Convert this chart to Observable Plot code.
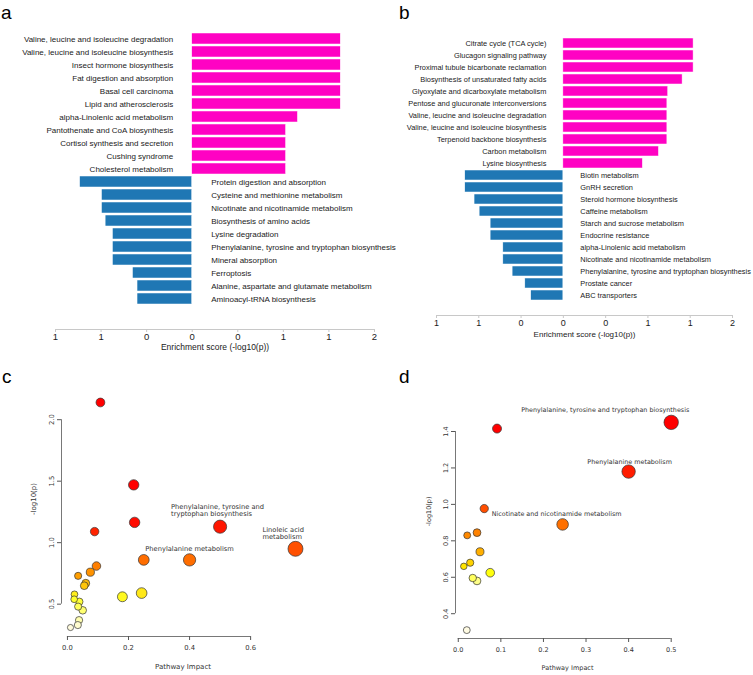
<!DOCTYPE html>
<html>
<head>
<meta charset="utf-8">
<script src="https://cdn.jsdelivr.net/npm/d3@7"></script>
<script src="https://cdn.jsdelivr.net/npm/@observablehq/plot@0.6"></script>
<style>
  body { margin: 0; background: #fff; }
  #fig { position: relative; width: 753px; height: 675px; overflow: hidden; font-family: "Liberation Sans", Arial, sans-serif; }
  .panel { position: absolute; }
  .plabel { position: absolute; font-size: 19px; line-height: 1; color: #000; font-family: "Liberation Sans", Arial, sans-serif; }
</style>
</head>
<body>
<div id="fig"></div>
<script>
// ---------- Panel a data ----------
const aUpNames = [
  "Valine, leucine and isoleucine degradation",
  "Valine, leucine and isoleucine biosynthesis",
  "Insect hormone biosynthesis",
  "Fat digestion and absorption",
  "Basal cell carcinoma",
  "Lipid and atherosclerosis",
  "alpha-Linolenic acid metabolism",
  "Pantothenate and CoA biosynthesis",
  "Cortisol synthesis and secretion",
  "Cushing syndrome",
  "Cholesterol metabolism"
];
const aUpValues = [1.63, 1.63, 1.63, 1.63, 1.63, 1.63, 1.16, 1.03, 1.03, 1.03, 1.03];
const aDownNames = [
  "Protein digestion and absorption",
  "Cysteine and methionine metabolism",
  "Nicotinate and nicotinamide metabolism",
  "Biosynthesis of amino acids",
  "Lysine degradation",
  "Phenylalanine, tyrosine and tryptophan biosynthesis",
  "Mineral absorption",
  "Ferroptosis",
  "Alanine, aspartate and glutamate metabolism",
  "Aminoacyl-tRNA biosynthesis"
];
const aDownValues = [1.23, 0.99, 0.99, 0.95, 0.87, 0.87, 0.87, 0.65, 0.60, 0.60];

// ---------- Panel b data ----------
const bUpNames = [
  "Citrate cycle (TCA cycle)",
  "Glucagon signaling pathway",
  "Proximal tubule bicarbonate reclamation",
  "Biosynthesis of unsaturated fatty acids",
  "Glyoxylate and dicarboxylate metabolism",
  "Pentose and glucuronate interconversions",
  "Valine, leucine and isoleucine degradation",
  "Valine, leucine and isoleucine biosynthesis",
  "Terpenoid backbone biosynthesis",
  "Carbon metabolism",
  "Lysine biosynthesis"
];
const bUpValues = [1.54, 1.54, 1.54, 1.41, 1.24, 1.23, 1.23, 1.23, 1.23, 1.13, 0.94];
const bDownNames = [
  "Biotin metabolism",
  "GnRH secretion",
  "Steroid hormone biosynthesis",
  "Caffeine metabolism",
  "Starch and sucrose metabolism",
  "Endocrine resistance",
  "alpha-Linolenic acid metabolism",
  "Nicotinate and nicotinamide metabolism",
  "Phenylalanine, tyrosine and tryptophan biosynthesis",
  "Prostate cancer",
  "ABC transporters"
];
const bDownValues = [1.16, 1.16, 1.05, 0.99, 0.86, 0.86, 0.71, 0.71, 0.60, 0.45, 0.38];

// enrichment axis ticks (mirrored axis) and their printed labels
const enrichTicks = [-1.5, -1, -0.5, 0, 0.5, 1, 1.5, 2];
const enrichTickLabels = ["1", "1", "0", "0", "0", "1", "1", "2"];
const enrichTitle = "Enrichment score (-log10(p))";

// ---------- Panel c data ----------
const cImpact = [0.108, 0.217, 0.220, 0.089, 0.095, 0.075, 0.035, 0.060, 0.055, 0.023, 0.022, 0.039, 0.035, 0.050, 0.038, 0.034, 0.010, 0.180, 0.243, 0.250, 0.400, 0.500, 0.747];
const cLogP   = [2.14, 1.47, 1.165, 1.09, 0.81, 0.76, 0.73, 0.67, 0.65, 0.58, 0.54, 0.52, 0.48, 0.45, 0.37, 0.33, 0.31, 0.56, 0.59, 0.86, 0.86, 1.13, 0.95];
const cLabelIdx = [21, 22, 20];
const cLabelText = ["Phenylalanine, tyrosine and\ntryptophan biosynthesis", "Linoleic acid\nmetabolism", "Phenylalanine metabolism"];
const cXTicks = [0.0, 0.2, 0.4, 0.6];
const cYTicks = [0.5, 1.0, 1.5, 2.0];

// ---------- Panel d data ----------
const dImpact = [0.091, 0.061, 0.021, 0.044, 0.051, 0.028, 0.013, 0.075, 0.034, 0.044, 0.020, 0.245, 0.400, 0.500];
const dLogP   = [1.416, 0.977, 0.83, 0.845, 0.74, 0.68, 0.66, 0.625, 0.596, 0.58, 0.31, 0.89, 1.18, 1.45];
const dLabelIdx = [13, 12, 11];
const dLabelText = ["Phenylalanine, tyrosine and tryptophan biosynthesis", "Phenylalanine metabolism", "Nicotinate and nicotinamide metabolism"];
const dXTicks = [0.0, 0.1, 0.2, 0.3, 0.4, 0.5];
const dYTicks = [0.4, 0.6, 0.8, 1.0, 1.2, 1.4];

const axisTitle = "Pathway Impact";
const yTitle = "-log10(p)";

// ---------- helpers ----------
const PINK = "#ff02c3";
const BLUE = "#1f77b4";
const fig = document.getElementById("fig");

function place(node, left, top) {
  const wrap = document.createElement("div");
  wrap.className = "panel";
  wrap.style.left = left + "px";
  wrap.style.top = top + "px";
  wrap.appendChild(node);
  fig.appendChild(wrap);
}
function panelLabel(txt, left, top) {
  const d = document.createElement("div");
  d.className = "plabel";
  d.textContent = txt;
  d.style.left = left + "px";
  d.style.top = top + "px";
  fig.appendChild(d);
}

function barPanel(o) {
  const up = o.upNames.map((n, i) => ({name: n, v: o.upValues[i]}));
  const down = o.downNames.map((n, i) => ({name: n, v: -o.downValues[i]}));
  const rows = up.concat(down);
  return Plot.plot({
    width: o.width, height: o.height,
    marginLeft: o.ml, marginRight: o.mr, marginTop: o.mt, marginBottom: o.mb,
    style: {fontFamily: "Liberation Sans, Arial, sans-serif", background: "transparent", overflow: "visible"},
    x: {domain: [enrichTicks[0], enrichTicks[enrichTicks.length - 1]], axis: null},
    y: {domain: rows.map(d => d.name), axis: null, padding: 0.18, insetBottom: o.insetBottom},
    marks: [
      Plot.barX(rows, {x: "v", y: "name", fill: d => d.v > 0 ? PINK : BLUE, stroke: "white", strokeWidth: 0.5}),
      Plot.text(up, {x: () => 0, y: "name", text: "name", textAnchor: "end", dx: -o.gap, fontSize: o.fs, fill: "#1a1a1a"}),
      Plot.text(down, {x: () => 0, y: "name", text: "name", textAnchor: "start", dx: o.gap, fontSize: o.fs, fill: "#1a1a1a"}),
      Plot.frame({anchor: "bottom", stroke: "#c8c8c8", strokeWidth: 1}),
      Plot.axisX({ticks: enrichTicks, tickFormat: d => enrichTickLabels[enrichTicks.indexOf(d)], tickSize: 3, tickPadding: 1, fontSize: o.tfs, stroke: "#c8c8c8", fill: "#1a1a1a", label: null}),
      Plot.text([enrichTitle], {frameAnchor: "bottom", dy: o.titleDy, fontSize: o.titleFs, fill: "#1a1a1a", lineAnchor: "middle"})
    ]
  });
}

function scatterPanel(o) {
  const pts = o.impact.map((x, i) => ({x, y: o.logp[i]}));
  const labs = o.labelIdx.map((k, j) => ({x: o.impact[k], y: o.logp[k], t: o.labelText[j], dx: o.lab[j][0], dy: o.lab[j][1], anchor: o.lab[j][2]}));
  const xt = o.xTicks, yt = o.yTicks;
  const font = "DejaVu Sans, Verdana, sans-serif";
  return Plot.plot({
    width: o.width, height: o.height,
    marginLeft: o.ml, marginRight: o.mr, marginTop: o.mt, marginBottom: o.mb,
    style: {fontFamily: font, background: "transparent", overflow: "visible"},
    x: {domain: o.xDomain},
    y: {domain: o.yDomain},
    r: {type: "sqrt", domain: o.rDomain, range: o.rRange},
    color: {type: "linear", domain: o.cDomain, range: o.cRange, interpolate: "rgb", clamp: true},
    marks: [
      Plot.ruleY([o.yDomain[0]], {x1: xt[0], x2: xt[xt.length - 1], stroke: "#555", strokeWidth: 0.8}),
      Plot.ruleX([o.xDomain[0]], {y1: yt[0], y2: yt[yt.length - 1], stroke: "#555", strokeWidth: 0.8}),
      Plot.axisX({ticks: xt, tickFormat: d3.format(".1f"), tickSize: 4, tickPadding: 5, fontSize: o.tfs, stroke: "#555", fill: "#333", label: null}),
      Plot.axisY({ticks: yt, tickFormat: d3.format(".1f"), tickSize: 4, tickPadding: 4, tickRotate: -90, fontSize: o.tfs, stroke: "#555", fill: "#333", label: null}),
      Plot.dot(pts, {x: "x", y: "y", r: "x", fill: "y", stroke: "#333", strokeWidth: 0.7}),
      ...labs.map(l => Plot.text([l], {x: "x", y: "y", text: "t", dx: l.dx, dy: l.dy, textAnchor: l.anchor, lineHeight: 1.05, fontSize: o.afs, fill: "#333"})),
      Plot.text([axisTitle], {frameAnchor: "bottom", dy: o.xTitleDy, fontSize: o.titleFs, fill: "#333"}),
      Plot.text([yTitle], {frameAnchor: "left", dx: o.yTitleDx, rotate: -90, fontSize: o.titleFs, fill: "#333"})
    ]
  });
}

// ---------- build ----------
place(barPanel({
  upNames: aUpNames, upValues: aUpValues, downNames: aDownNames, downValues: aDownValues,
  width: 376, height: 360, ml: 55, mr: 2, mt: 21, mb: 31, insetBottom: 14,
  gap: 19, fs: 8, tfs: 9.5, titleFs: 8.5, titleDy: 18
}), 0, 0);

place(barPanel({
  upNames: bUpNames, upValues: bUpValues, downNames: bDownNames, downValues: bDownValues,
  width: 377, height: 360, ml: 60, mr: 21, mt: 35, mb: 45, insetBottom: 12,
  gap: 17, fs: 7.4, tfs: 9, titleFs: 8, titleDy: 19
}), 376, 0);

place(scatterPanel({
  impact: cImpact, logp: cLogP, labelIdx: cLabelIdx, labelText: cLabelText,
  lab: [[-49, -16, "start"], [-33, -16, "start"], [0, -11, "middle"]],
  xTicks: cXTicks, yTicks: cYTicks,
  width: 376, height: 315, ml: 61, mr: 72, mt: 33, mb: 39,
  xDomain: [-0.0195, 0.7765], yDomain: [0.237, 2.213],
  rDomain: [0, 0.75], rRange: [2.5, 7.5],
  cDomain: [0.3, 0.4, 0.55, 0.7, 0.85, 1.0, 1.2],
  cRange: ["#fffbe6", "#ffff99", "#ffff22", "#ffaa00", "#ff7000", "#ff4000", "#ff0000"],
  tfs: 6.8, afs: 6.7, titleFs: 7, xTitleDy: 32, yTitleDx: -28
}), 0, 360);

place(scatterPanel({
  impact: dImpact, logp: dLogP, labelIdx: dLabelIdx, labelText: dLabelText,
  lab: [[-66, -13, "middle"], [1, -10, "middle"], [-6, -11, "middle"]],
  xTicks: dXTicks, yTicks: dYTicks,
  width: 377, height: 315, ml: 79, mr: 74, mt: 53.5, mb: 37,
  xDomain: [-0.0065, 0.5195], yDomain: [0.264, 1.496],
  rDomain: [0, 0.5], rRange: [2.5, 7.2],
  cDomain: [0.3, 0.58, 0.63, 0.7, 0.85, 1.0, 1.3],
  cRange: ["#fffbe6", "#ffff88", "#ffff00", "#ffc000", "#ff8000", "#ff4500", "#ff0000"],
  tfs: 6.5, afs: 6.4, titleFs: 6.5, xTitleDy: 31, yTitleDx: -27
}), 376, 360);

panelLabel("a", 1, 3);
panelLabel("b", 399, 3);
panelLabel("c", 2, 367);
panelLabel("d", 399, 367);
</script>
</body>
</html>
